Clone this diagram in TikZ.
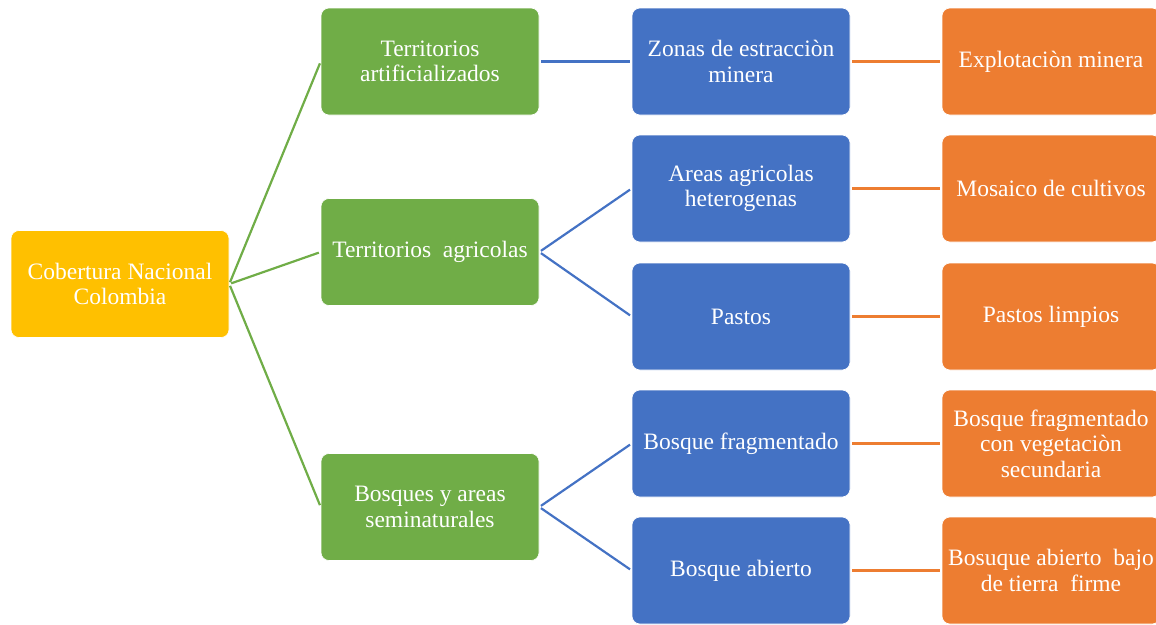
\documentclass[tikz,border=0pt]{standalone}
\usepackage{fontspec}
\setmainfont{Liberation Serif}
\definecolor{cgold}{HTML}{FFC000}
\definecolor{cgreen}{HTML}{70AD47}
\definecolor{cblue}{HTML}{4472C4}
\definecolor{corange}{HTML}{ED7D31}
\tikzset{
  box/.style={rounded corners=8pt, minimum width=218pt, minimum height=107pt,
    text=white, font=\fontsize{23.5}{25.5}\selectfont, align=center, inner sep=0pt,
    draw=white, line width=0.6pt},
  rootbox/.style={box, fill=cgold},
  gbox/.style={box, fill=cgreen},
  bbox/.style={box, fill=cblue},
  obox/.style={box, fill=corange},
  conn/.style={line width=2.2pt, shorten <=2pt, shorten >=2pt},
  gline/.style={conn, draw=cgreen},
  bline/.style={conn, draw=cblue},
  oline/.style={conn, draw=corange}
}
\begin{document}
\begin{tikzpicture}[x=1pt,y=-1pt]
\useasboundingbox (0,0) rectangle (1156,624);
\clip (0,0) rectangle (1156,624);

\node[rootbox] (root) at (120,284) {Cobertura Nacional\\Colombia};

\node[gbox] (t1) at (430,61.5) {Territorios\\artificializados};
\node[gbox] (t2) at (430,252) {Territorios~ agricolas};
\node[gbox] (t3) at (430,507) {Bosques y areas\\seminaturales};

\node[bbox] (b1) at (741,61.5) {Zonas de estracciòn\\minera};
\node[bbox] (b2) at (741,188.5) {Areas agricolas\\heterogenas};
\node[bbox] (b3) at (741,316.5) {Pastos};
\node[bbox] (b4) at (741,443.5) {Bosque fragmentado};
\node[bbox] (b5) at (741,570.5) {Bosque abierto};

\node[obox] (o1) at (1051,61.5) {Explotaciòn minera};
\node[obox] (o2) at (1051,188.5) {Mosaico de cultivos};
\node[obox] (o3) at (1051,316.5) {Pastos limpios};
\node[obox] (o4) at (1051,443.5) {Bosque fragmentado\\con vegetaciòn\\secundaria};
\node[obox] (o5) at (1051,570.5) {Bosuque abierto~ bajo\\de tierra~ firme};

\draw[gline] (root.east) -- (t1.west);
\draw[gline] (root.east) -- (t2.west);
\draw[gline] (root.east) -- (t3.west);

\draw[bline] (t1.east) -- (b1.west);
\draw[bline] (t2.east) -- (b2.west);
\draw[bline] (t2.east) -- (b3.west);
\draw[bline] (t3.east) -- (b4.west);
\draw[bline] (t3.east) -- (b5.west);

\draw[oline] (b1.east) -- (o1.west);
\draw[oline] (b2.east) -- (o2.west);
\draw[oline] (b3.east) -- (o3.west);
\draw[oline] (b4.east) -- (o4.west);
\draw[oline] (b5.east) -- (o5.west);
\end{tikzpicture}
\end{document}
